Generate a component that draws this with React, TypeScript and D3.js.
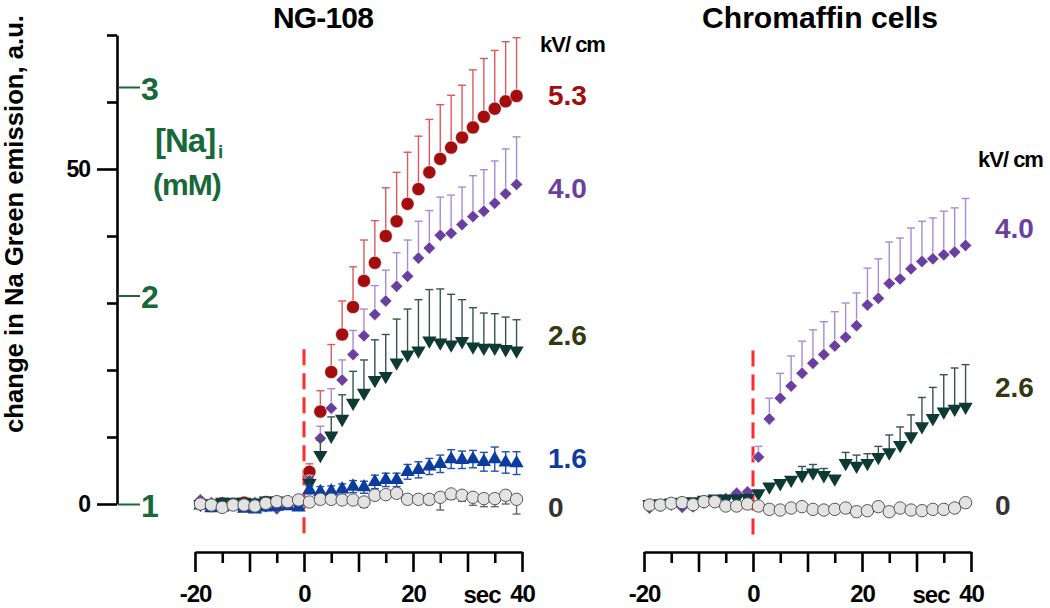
import React, { useEffect, useRef } from 'react';
import * as d3 from 'd3';

// ---------- DATA ----------
const times = [-19, -17, -15, -13, -11, -9, -7, -5, -3, -1, 1, 3, 5, 7, 9, 11, 13, 15, 17, 19, 21, 23, 25, 27, 29, 31, 33, 35, 37, 39];

// NG-108 panel
const ng53 = [0.2, -0.3, 0.1, 0.0, 0.2, -0.1, 0.3, 0.1, 0.2, 0.1, 4.8, 13.8, 19.7, 25.3, 29.4, 33.3, 36.0, 40.0, 42.2, 44.8, 47.0, 49.5, 51.5, 53.2, 54.7, 56.2, 57.8, 59.0, 60.1, 60.9];
const ng53Err = [0.2, 0.2, 0.2, 0.2, 0.2, 0.2, 0.2, 0.2, 0.2, 0.2, 1.2, 3.1, 4.1, 5.0, 6.0, 6.1, 6.3, 7.2, 7.3, 7.7, 7.9, 7.9, 8.1, 7.8, 7.8, 8.6, 8.7, 8.7, 8.9, 8.7];
const ng40 = [0.6, 0.2, -0.2, 0.1, -0.3, 0.2, -0.4, -0.7, 0.0, -0.2, 3.5, 9.8, 14.3, 18.5, 22.3, 25.1, 28.3, 30.3, 32.5, 34.0, 36.7, 38.2, 40.1, 40.4, 41.7, 42.9, 43.7, 44.9, 46.3, 47.7];
const ng40Err = [0.2, 0.2, 0.2, 0.2, 0.2, 0.2, 0.2, 0.2, 0.2, 0.2, 0.8, 1.8, 2.9, 3.0, 3.6, 4.0, 4.3, 4.6, 5.0, 5.4, 5.5, 5.6, 5.7, 5.7, 5.6, 6.1, 6.2, 6.3, 6.7, 7.1];
const ng26 = [0.0, 0.1, 0.3, 0.3, 0.3, 0.2, 0.5, 0.5, 0.4, 0.2, 3.1, 7.3, 10.2, 12.7, 15.1, 16.6, 18.5, 19.1, 21.1, 22.3, 22.9, 24.4, 24.1, 23.8, 24.3, 23.5, 23.3, 23.3, 23.1, 22.9];
const ng26Err = [0.2, 0.2, 0.2, 0.2, 0.2, 0.2, 0.2, 0.2, 0.2, 0.2, 0.8, 2.2, 2.8, 3.6, 4.7, 4.9, 6.0, 6.2, 6.5, 6.8, 7.6, 7.6, 8.0, 7.5, 6.2, 5.8, 5.2, 5.1, 4.8, 4.6];
const ng16 = [-0.2, -0.6, -0.5, -0.3, -0.7, -0.8, -0.5, -0.4, -0.3, -0.5, 2.1, 1.8, 1.9, 2.2, 2.6, 2.5, 3.3, 3.6, 3.6, 4.8, 5.1, 5.6, 6.0, 6.7, 6.6, 6.7, 6.3, 6.7, 6.2, 6.1];
const ng16Err = [0.2, 0.2, 0.2, 0.2, 0.2, 0.2, 0.2, 0.2, 0.2, 0.2, 0.6, 0.8, 0.8, 0.8, 0.9, 0.9, 1.0, 1.0, 1.0, 1.1, 1.2, 1.2, 1.3, 1.4, 1.3, 1.3, 1.4, 1.8, 1.6, 1.7];
const ng0 = [0.0, -0.15, -0.5, -0.15, -0.15, -0.3, 0.1, 0.35, 0.35, 0.6, 0.3, 0.7, 0.7, 0.6, 0.6, 0.3, 1.3, 1.4, 1.6, 0.7, 0.7, 0.7, 1.0, 1.5, 1.3, 1.0, 0.8, 0.8, 1.3, 0.7];
const ng0Err = [0.2, 0.2, 0.2, 0.2, 0.2, 0.2, 0.2, 0.2, 0.2, 0.2, 0.3, 0.4, 0.4, 0.4, 0.5, 0.8, 0.5, 0.5, 0.5, 0.6, 0.6, 0.8, 1.9, 0.8, 0.9, 1.2, 1.2, 1.2, 1.3, 2.2];

// Chromaffin cells panel
const cc40 = [-0.6, -0.3, 0.0, -0.5, -0.4, 0.2, 0.3, 0.8, 1.6, 1.8, 7.0, 12.7, 15.8, 17.6, 19.5, 21.0, 22.3, 23.6, 24.9, 26.6, 29.7, 30.7, 32.9, 33.6, 35.1, 36.2, 36.6, 37.2, 37.6, 38.6];
const cc40Err = [0.1, 0.1, 0.1, 0.1, 0.1, 0.1, 0.1, 0.1, 0.3, 0.3, 1.6, 3.1, 3.7, 4.5, 4.8, 5.0, 4.9, 5.1, 5.1, 4.9, 5.5, 5.9, 6.2, 6.1, 6.1, 6.0, 6.1, 6.5, 6.6, 7.0];
const cc26 = [0.0, 0.1, 0.2, 0.3, 0.4, 0.6, 0.8, 0.8, 0.8, 0.9, 1.6, 2.6, 3.1, 3.6, 4.3, 4.7, 4.3, 3.8, 6.1, 5.7, 6.1, 7.0, 7.7, 8.8, 10.1, 11.6, 12.8, 13.8, 14.2, 14.5];
const cc26Err = [0.0, 0.0, 0.0, 0.0, 0.0, 0.0, 0.0, 0.0, 0.0, 0.0, 0.2, 0.2, 0.2, 0.3, 1.3, 1.2, 1.0, 0.4, 1.6, 1.6, 1.4, 1.6, 2.6, 2.7, 3.2, 4.3, 4.6, 5.5, 6.1, 6.3];
const cc0 = [-0.15, -0.15, 0.1, 0.2, -0.1, 0.35, 0.35, -0.3, -0.3, 0.0, -0.3, -0.8, -0.9, -0.6, -0.4, -0.8, -0.9, -0.8, -0.6, -1.15, -1.0, -0.4, -1.15, -0.6, -0.9, -1.0, -0.8, -0.8, -0.6, 0.2];
const cc0Err = [0.1, 0.1, 0.1, 0.1, 0.1, 0.1, 0.1, 0.1, 0.1, 0.1, 0.2, 0.2, 0.2, 0.2, 0.2, 0.2, 0.2, 0.2, 0.2, 0.4, 0.3, 0.2, 0.4, 0.2, 0.2, 0.3, 0.2, 0.2, 0.2, 0.3];

// axis ticks / labels
const yMajorTicks = [0, 50];
const yMinorTicks = [10, 20, 30, 40, 60, 70];
const naTicks = [1, 2, 3];
const xLongTicks = [-20, -10, 0, 10, 20, 30, 40];
const xLabelTicks = [-20, 0, 20, 40];
const xShortTicks = [-15, -5, 5, 15, 25, 35];
const ngLabels = ['5.3', '4.0', '2.6', '1.6', '0'];
const ccLabels = ['4.0', '2.6', '0'];

// ---------- LAYOUT ----------
const W = 1050;
const H = 608;
const FONT = "'Liberation Sans', Arial, Helvetica, sans-serif";

const yScale = d3.scaleLinear().domain([0, 70]).range([504, 35]);
const naScale = d3.scaleLinear().domain([1, 3]).range([504, 87]);
const xLeft = d3.scaleLinear().domain([-20, 40]).range([195, 522]);
const xRight = d3.scaleLinear().domain([-20, 40]).range([644, 971]);
const AXIS_Y = 552;

const C = {
  red: '#a30d0d', redErr: '#dc5a5a',
  purple: '#6b3fa0', purpleErr: '#a88bd6',
  dkgreen: '#0d3a35', dkgreenErr: '#35544f',
  blue: '#0b3c9e', blueErr: '#2150b4',
  grey: '#e3e3e3', greyStroke: '#555', greyErr: '#666',
  na: '#17693a', olive: '#343810', stim: '#ff2a2a',
};

type Marker = 'circle' | 'diamond' | 'triDown' | 'triUp' | 'open';
type Series = { values: number[]; errs: number[]; dir: 'up' | 'down' | 'both'; marker: Marker; fill: string; stroke: string; errColor: string };

const ngSeries: Series[] = [
  { values: ng53, errs: ng53Err, dir: 'up', marker: 'circle', fill: C.red, stroke: C.red, errColor: C.redErr },
  { values: ng40, errs: ng40Err, dir: 'up', marker: 'diamond', fill: C.purple, stroke: C.purple, errColor: C.purpleErr },
  { values: ng26, errs: ng26Err, dir: 'up', marker: 'triDown', fill: C.dkgreen, stroke: C.dkgreen, errColor: C.dkgreenErr },
  { values: ng16, errs: ng16Err, dir: 'both', marker: 'triUp', fill: C.blue, stroke: C.blue, errColor: C.blueErr },
  { values: ng0, errs: ng0Err, dir: 'down', marker: 'open', fill: C.grey, stroke: C.greyStroke, errColor: C.greyErr },
];
const ccSeries: Series[] = [
  { values: cc40, errs: cc40Err, dir: 'up', marker: 'diamond', fill: C.purple, stroke: C.purple, errColor: C.purpleErr },
  { values: cc26, errs: cc26Err, dir: 'up', marker: 'triDown', fill: C.dkgreen, stroke: C.dkgreen, errColor: C.dkgreenErr },
  { values: cc0, errs: cc0Err, dir: 'down', marker: 'open', fill: C.grey, stroke: C.greyStroke, errColor: C.greyErr },
];

const diamondPath = d3.symbol(d3.symbolSquare, 78)() as string;
const triPath = d3.symbol(d3.symbolTriangle, 88)() as string;

function MarkerShape({ m, x, y, fill, stroke }: { m: Marker; x: number; y: number; fill: string; stroke: string }) {
  if (m === 'circle') return <circle cx={x} cy={y} r={6.6} fill={fill} stroke="#fff" strokeWidth={0.6} />;
  if (m === 'open') return <circle cx={x} cy={y} r={6.2} fill={fill} stroke={stroke} strokeWidth={1} />;
  if (m === 'diamond') return <path d={diamondPath} transform={`translate(${x},${y}) rotate(45)`} fill={fill} stroke="#fff" strokeWidth={0.6} />;
  if (m === 'triDown') return <path d={triPath} transform={`translate(${x},${y}) rotate(180)`} fill={fill} />;
  return <path d={triPath} transform={`translate(${x},${y})`} fill={fill} />;
}

function SeriesMarks({ s, x }: { s: Series; x: d3.ScaleLinear<number, number> }) {
  const cap = 4;
  return (
    <g>
      {s.values.map((v, i) => {
        const e = s.errs[i];
        if (!e) return null;
        const cx = x(times[i]);
        const segs: JSX.Element[] = [];
        if (s.dir === 'up' || s.dir === 'both') {
          const ty = yScale(v + e);
          segs.push(<line key="u" x1={cx} x2={cx} y1={yScale(v)} y2={ty} stroke={s.errColor} strokeWidth={1.4} />);
          segs.push(<line key="uc" x1={cx - cap} x2={cx + cap} y1={ty} y2={ty} stroke={s.errColor} strokeWidth={1.4} />);
        }
        if (s.dir === 'down' || s.dir === 'both') {
          const by = yScale(v - e);
          segs.push(<line key="d" x1={cx} x2={cx} y1={yScale(v)} y2={by} stroke={s.errColor} strokeWidth={1.4} />);
          segs.push(<line key="dc" x1={cx - cap} x2={cx + cap} y1={by} y2={by} stroke={s.errColor} strokeWidth={1.4} />);
        }
        return <g key={i}>{segs}</g>;
      })}
      {s.values.map((v, i) => (
        <MarkerShape key={i} m={s.marker} x={x(times[i])} y={yScale(v)} fill={s.fill} stroke={s.stroke} />
      ))}
    </g>
  );
}

function styleAxis(g: d3.Selection<SVGGElement, unknown, null, undefined>, color: string, fontSize: number) {
  g.select('.domain').attr('stroke', color).attr('stroke-width', 2.6);
  g.selectAll('.tick line').attr('stroke', color).attr('stroke-width', 2.6);
  g.selectAll('.tick text').attr('fill', color).attr('font-family', FONT).attr('font-weight', 'bold').attr('font-size', fontSize).attr('letter-spacing', -1);
}

export default function App() {
  const axRef = useRef<SVGGElement>(null);

  useEffect(() => {
    const root = d3.select(axRef.current as SVGGElement);
    root.selectAll('*').remove();

    // left y axis
    const yMaj = root.append('g').attr('transform', `translate(${117},0)`);
    yMaj.call(d3.axisLeft(yScale).tickValues(yMajorTicks).tickSize(20).tickSizeOuter(0).tickPadding(7).tickFormat((d) => String(d)));
    styleAxis(yMaj as any, '#000', 23);
    const yMin = root.append('g').attr('transform', `translate(${117},0)`);
    yMin.call(d3.axisLeft(yScale).tickValues(yMinorTicks).tickSize(10).tickSizeOuter(0).tickFormat(() => ''));
    yMin.select('.domain').remove();
    styleAxis(yMin as any, '#000', 23);

    // Na axis (green)
    const na = root.append('g').attr('transform', `translate(${118},0)`);
    na.call(d3.axisRight(naScale).tickValues(naTicks).tickSize(22).tickPadding(1).tickFormat((d) => String(d)));
    na.select('.domain').remove();
    styleAxis(na as any, C.na, 32);
    na.selectAll('.tick line').attr('stroke-width', 2);
    na.selectAll('.tick text').attr('dy', '0.38em');

    // x axes
    [xLeft, xRight].forEach((xs) => {
      const gl = root.append('g').attr('transform', `translate(0,${AXIS_Y})`);
      gl.call(
        d3.axisBottom(xs).tickValues(xLongTicks).tickSize(20).tickSizeOuter(0).tickPadding(13)
          .tickFormat((d) => (xLabelTicks.includes(d as number) ? String(d) : ''))
      );
      styleAxis(gl as any, '#000', 24);
      const gs = root.append('g').attr('transform', `translate(0,${AXIS_Y})`);
      gs.call(d3.axisBottom(xs).tickValues(xShortTicks).tickSize(11).tickSizeOuter(0).tickFormat(() => ''));
      gs.select('.domain').remove();
      styleAxis(gs as any, '#000', 24);
    });
  }, []);

  const textStyle = { fontFamily: FONT, fontWeight: 'bold' as const };

  return (
    <svg width={W} height={H} style={{ position: 'absolute', left: 0, top: 0, background: '#fff' }}>
      <rect width={W} height={H} fill="#fff" />

      {/* titles */}
      <text x={323} y={28} textAnchor="middle" fontSize={30} letterSpacing={-0.8} style={textStyle}>NG-108</text>
      <text x={820} y={28} textAnchor="middle" fontSize={30} textLength={236} lengthAdjust="spacingAndGlyphs" style={textStyle}>Chromaffin cells</text>

      {/* y-axis title */}
      <text transform={`translate(23,224) rotate(-90)`} textAnchor="middle" fontSize={25} textLength={418} lengthAdjust="spacingAndGlyphs" style={textStyle}>
        change in Na Green emission, a.u.
      </text>

      {/* Na label */}
      <text x={155} y={152} fontSize={33} fill={C.na} letterSpacing={-1} style={textStyle}>[Na]</text>
      <text x={218} y={158} fontSize={19} fill={C.na} style={textStyle}>i</text>
      <text x={153} y={195} fontSize={30} fill={C.na} letterSpacing={-1} style={textStyle}>(mM)</text>

      {/* stimulus lines */}
      <line x1={xLeft(0)} x2={xLeft(0)} y1={yScale(23.1)} y2={yScale(-5)} stroke={C.stim} strokeWidth={3} strokeDasharray="16 8" />
      <line x1={xRight(0)} x2={xRight(0)} y1={yScale(22.9)} y2={yScale(-5)} stroke={C.stim} strokeWidth={3} strokeDasharray="16 8" />

      {/* data */}
      {ngSeries.map((s, i) => <SeriesMarks key={'ng' + i} s={s} x={xLeft} />)}
      {ccSeries.map((s, i) => <SeriesMarks key={'cc' + i} s={s} x={xRight} />)}

      <g ref={axRef} />

      {/* sec labels */}
      <text x={482} y={603} textAnchor="middle" fontSize={24} letterSpacing={-1} style={textStyle}>sec</text>
      <text x={931} y={603} textAnchor="middle" fontSize={24} letterSpacing={-1} style={textStyle}>sec</text>

      {/* kV/cm legends */}
      <text x={540} y={52} fontSize={22} letterSpacing={-1} style={textStyle}>kV/ cm</text>
      <text x={548} y={105} fontSize={28} fill={C.red} style={textStyle}>{ngLabels[0]}</text>
      <text x={548} y={198} fontSize={28} fill={C.purple} style={textStyle}>{ngLabels[1]}</text>
      <text x={548} y={345} fontSize={28} fill={C.olive} style={textStyle}>{ngLabels[2]}</text>
      <text x={548} y={468} fontSize={28} fill={C.blue} style={textStyle}>{ngLabels[3]}</text>
      <text x={548} y={517} fontSize={28} fill="#333" style={textStyle}>{ngLabels[4]}</text>

      <text x={978} y={167} fontSize={22} letterSpacing={-1} style={textStyle}>kV/ cm</text>
      <text x={995} y={238} fontSize={28} fill={C.purple} style={textStyle}>{ccLabels[0]}</text>
      <text x={995} y={397} fontSize={28} fill={C.olive} style={textStyle}>{ccLabels[1]}</text>
      <text x={995} y={515} fontSize={28} fill="#333" style={textStyle}>{ccLabels[2]}</text>
    </svg>
  );
}
